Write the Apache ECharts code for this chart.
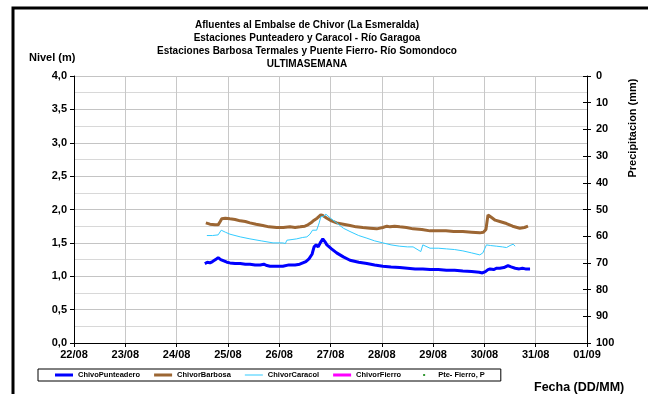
<!DOCTYPE html>
<html><head><meta charset="utf-8">
<script src="https://cdn.jsdelivr.net/npm/echarts@6/dist/echarts.min.js"></script>
<style>html,body{margin:0;padding:0;background:#fff}#c{width:648px;height:394px}</style>
</head><body><div id="c"></div>
<script>
const dateLabels = ['22/08','23/08','24/08','25/08','26/08','27/08','28/08','29/08','30/08','31/08','01/09'];
const levelTicks = ['0,0','0,5','1,0','1,5','2,0','2,5','3,0','3,5','4,0'];
const seriesNames = ['ChivoPunteadero','ChivorBarbosa','ChivorCaracol','ChivorFierro','Pte- Fierro, P'];

// time in days since 22/08 00:00
const puntDays = [2.55,2.60,2.65,2.70,2.76,2.81,2.86,2.92,2.98,3.04,3.14,3.24,3.34,3.43,3.53,3.63,3.70,3.76,3.82,3.95,4.07,4.19,4.31,4.40,4.46,4.52,4.58,4.64,4.68,4.72,4.76,4.80,4.85,4.89,4.93,5.02,5.12,5.25,5.38,5.55,5.71,5.86,6.02,6.18,6.35,6.50,6.65,6.80,6.94,7.10,7.26,7.42,7.58,7.75,7.90,7.96,8.02,8.07,8.11,8.18,8.24,8.30,8.38,8.46,8.52,8.60,8.68,8.74,8.80,8.89];
const puntLevel = [1.19,1.21,1.20,1.22,1.25,1.28,1.25,1.23,1.21,1.20,1.19,1.19,1.18,1.18,1.17,1.17,1.18,1.16,1.15,1.15,1.15,1.17,1.17,1.18,1.20,1.22,1.26,1.33,1.44,1.47,1.44,1.50,1.56,1.52,1.47,1.41,1.35,1.29,1.24,1.21,1.19,1.17,1.15,1.14,1.13,1.12,1.11,1.11,1.10,1.10,1.09,1.09,1.08,1.07,1.06,1.05,1.07,1.10,1.11,1.10,1.12,1.12,1.13,1.16,1.14,1.12,1.11,1.12,1.11,1.11];

const barbDays = [2.57,2.65,2.75,2.81,2.85,2.88,2.95,3.04,3.14,3.24,3.34,3.43,3.55,3.68,3.80,3.95,4.08,4.21,4.31,4.41,4.50,4.56,4.62,4.68,4.74,4.81,4.85,4.93,5.02,5.12,5.25,5.38,5.50,5.63,5.77,5.90,6.02,6.10,6.16,6.25,6.35,6.48,6.61,6.78,6.94,7.10,7.25,7.40,7.58,7.75,7.91,7.98,8.03,8.07,8.14,8.21,8.30,8.43,8.55,8.69,8.78,8.85];
const barbLevel = [1.80,1.78,1.77,1.77,1.82,1.86,1.87,1.86,1.85,1.83,1.82,1.80,1.78,1.76,1.74,1.73,1.73,1.74,1.73,1.74,1.75,1.77,1.80,1.84,1.87,1.92,1.91,1.87,1.83,1.80,1.78,1.76,1.74,1.73,1.72,1.71,1.73,1.75,1.74,1.75,1.74,1.73,1.71,1.70,1.68,1.68,1.68,1.67,1.67,1.66,1.65,1.66,1.70,1.92,1.88,1.84,1.82,1.79,1.75,1.72,1.73,1.75];

const caraDays = [2.59,2.70,2.81,2.87,2.95,3.04,3.24,3.43,3.65,3.88,4.07,4.12,4.15,4.25,4.34,4.45,4.54,4.60,4.65,4.73,4.78,4.81,4.87,4.91,5.00,5.12,5.25,5.38,5.55,5.71,5.86,6.02,6.18,6.35,6.50,6.61,6.76,6.80,6.94,7.10,7.26,7.42,7.58,7.75,7.91,7.97,8.04,8.12,8.24,8.35,8.43,8.50,8.56,8.60];
const caraLevel = [1.61,1.61,1.62,1.69,1.66,1.63,1.59,1.56,1.53,1.50,1.50,1.49,1.54,1.55,1.56,1.58,1.59,1.63,1.69,1.69,1.80,1.89,1.90,1.93,1.87,1.80,1.72,1.67,1.61,1.57,1.53,1.50,1.47,1.45,1.44,1.44,1.37,1.47,1.42,1.42,1.41,1.40,1.38,1.35,1.32,1.35,1.47,1.46,1.45,1.44,1.43,1.46,1.48,1.45];

const fierroDays = [];
const fierroLevel = [];
const rainDays = [];
const rainMm = [];

const zip = (a, b) => a.map((v, i) => [v, b[i]]);
const F = '"Liberation Sans", Arial, sans-serif';
const corners = ' M0,0 h0.01 v0.01 h-0.01 Z M17.99,5.99 h0.01 v0.01 h-0.01 Z';
const thickIcon = 'path://M0,1.5 h18 v3 h-18 Z' + corners;
const thinIcon = 'path://M0,2.5 h18 v1 h-18 Z' + corners;
const dotIcon = 'path://M8,2 h2 v2 h-2 Z' + corners;
const chart = echarts.init(document.getElementById('c'));
chart.setOption({
  animation: false,
  backgroundColor: '#fff',
  title: [{
    text: 'Afluentes al Embalse de Chivor (La Esmeralda)\nEstaciones Punteadero y Caracol - Río Garagoa\nEstaciones Barbosa Termales y Puente Fierro- Río Somondoco\nULTIMASEMANA',
    left: 302, top: 14, textAlign: 'center',
    textStyle: {fontFamily: F, fontWeight: 'bold', fontSize: 10, lineHeight: 12.8, color: '#000'}
  }, {
    text: 'Nivel (m)', left: 24, top: 47,
    textStyle: {fontFamily: F, fontWeight: 'bold', fontSize: 11, color: '#000'}
  }],
  grid: {left: 74, right: 61, top: 76, bottom: 51},
  legend: {
    left: 38, top: 369, orient: 'horizontal',
    itemWidth: 18, itemHeight: 6, itemGap: 14,
    padding: [2, 16, 2, 17],
    borderColor: '#000', borderWidth: 1,
    textStyle: {fontFamily: F, fontWeight: 'bold', fontSize: 7.5, color: '#000'},
    data: [
      {name: seriesNames[0], icon: thickIcon}, {name: seriesNames[1], icon: thickIcon},
      {name: seriesNames[2], icon: thinIcon}, {name: seriesNames[3], icon: thickIcon},
      {name: seriesNames[4], icon: dotIcon}
    ]
  },
  xAxis: {
    type: 'value', min: 0, max: 10, interval: 1,
    axisLine: {lineStyle: {color: '#000', width: 1}},
    axisTick: {show: true, length: 4, inside: false, lineStyle: {color: '#000'}},
    axisLabel: {fontFamily: F, fontWeight: 'bold', fontSize: 11, color: '#000', margin: 6,
      formatter: v => dateLabels[Math.round(v)]},
    splitLine: {show: true, lineStyle: {color: '#c8c8c8', width: 1}}
  },
  yAxis: [{
    type: 'value', min: 0, max: 4, interval: 0.5,
    axisLine: {show: true, lineStyle: {color: '#000'}},
    axisTick: {show: true, length: 4, lineStyle: {color: '#000'}},
    axisLabel: {fontFamily: F, fontWeight: 'bold', fontSize: 11, color: '#000', margin: 7,
      formatter: v => levelTicks[Math.round(v * 2)]},
    splitLine: {show: true, lineStyle: {color: '#c4c4c4'}},
    minorTick: {show: false, splitNumber: 2},
    minorSplitLine: {show: true, lineStyle: {color: '#d8d8d8'}}
  }, {
    type: 'value', min: 0, max: 100, interval: 10, inverse: true, position: 'right',
    axisLine: {show: true, lineStyle: {color: '#000'}},
    axisTick: {show: true, length: 4, lineStyle: {color: '#000'}},
    axisLabel: {fontFamily: F, fontWeight: 'bold', fontSize: 11, color: '#000', margin: 9},
    splitLine: {show: false}
  }, {
    type: 'value', min: 0, max: 100, interval: 10, inverse: true, position: 'right',
    axisLine: {show: false},
    axisTick: {show: true, inside: true, length: 4, lineStyle: {color: '#000'}},
    axisLabel: {show: false},
    splitLine: {show: false}
  }],
  series: [{
    name: seriesNames[0], type: 'line', data: zip(puntDays, puntLevel), symbol: 'none',
    lineStyle: {color: '#0000ff', width: 3}, itemStyle: {color: '#0000ff'}
  }, {
    name: seriesNames[1], type: 'line', data: zip(barbDays, barbLevel), symbol: 'none',
    lineStyle: {color: '#9c6633', width: 3}, itemStyle: {color: '#9c6633'}
  }, {
    name: seriesNames[2], type: 'line', data: zip(caraDays, caraLevel), symbol: 'none',
    lineStyle: {color: '#33ccff', width: 1}, itemStyle: {color: '#33ccff'}
  }, {
    name: seriesNames[3], type: 'line', data: zip(fierroDays, fierroLevel), symbol: 'none',
    lineStyle: {color: '#ff00ff', width: 3}, itemStyle: {color: '#ff00ff'}
  }, {
    name: seriesNames[4], type: 'scatter', yAxisIndex: 1, data: zip(rainDays, rainMm),
    symbol: 'rect', symbolSize: 2, itemStyle: {color: '#008000'}
  }],
  graphic: [
    {type: 'rect', shape: {x: 13, y: 8, width: 640, height: 400}, style: {fill: 'none', stroke: '#000', lineWidth: 3}, silent: true},
    {type: 'text', left: 534, top: 381, style: {text: 'Fecha (DD/MM)', font: 'bold 12.5px "Liberation Sans", Arial', fill: '#000'}},
    {type: 'text', x: 633, y: 128, rotation: Math.PI / 2, style: {text: 'Precipitacion (mm)', font: 'bold 11px "Liberation Sans", Arial', fill: '#000', align: 'center', verticalAlign: 'middle'}}
  ]
});
</script></body></html>
